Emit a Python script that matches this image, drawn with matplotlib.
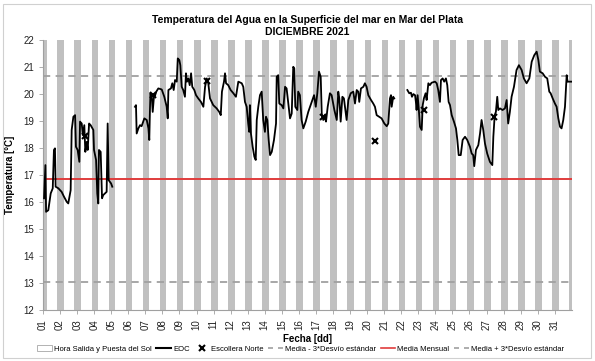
import numpy as np
import matplotlib
matplotlib.use("Agg")
import matplotlib.pyplot as plt
from matplotlib.patches import Patch, Rectangle
from matplotlib.lines import Line2D

plt.rcParams['font.family'] = ['Liberation Sans', 'DejaVu Sans']

# days since 1 Dec 00:00 / water temperature [C]
eoc_days_1 = [0.06, 0.14, 0.18, 0.31, 0.45, 0.57, 0.64, 0.70, 0.74, 0.90, 1.09, 1.23, 1.39, 1.48,
              1.62, 1.68, 1.78, 1.88, 1.93, 2.03, 2.13, 2.17, 2.27, 2.33, 2.42, 2.48, 2.56, 2.62,
              2.70, 2.79, 2.95, 2.99, 3.11, 3.18, 3.24, 3.28, 3.38, 3.46, 3.53, 3.73, 3.79, 3.85,
              3.99, 4.06]
eoc_temp_1 = [16.14, 17.37, 15.64, 15.70, 16.32, 16.51, 17.93, 17.99, 16.57, 16.51, 16.38, 16.20,
              16.01, 15.95, 16.44, 18.67, 19.16, 19.22, 18.05, 17.93, 17.49, 18.98, 18.91, 18.48,
              18.85, 17.86, 18.23, 17.93, 18.91, 18.85, 18.67, 17.93, 17.56, 16.32, 15.95, 17.93,
              17.86, 16.14, 16.26, 16.38, 18.91, 16.81, 16.69, 16.57]

eoc_days_2 = [5.39, 5.45, 5.49, 5.59, 5.69, 5.78, 5.94, 6.08, 6.18, 6.23, 6.29, 6.37, 6.43, 6.51,
              6.56, 6.64, 6.76, 6.96, 7.11, 7.25, 7.31, 7.35, 7.50, 7.58, 7.66, 7.74, 7.84, 7.90,
              7.99, 8.05, 8.13, 8.22, 8.32, 8.38, 8.44, 8.52, 8.60, 8.68, 8.75, 8.87, 8.97, 9.10,
              9.26, 9.40, 9.50, 9.60, 9.69, 9.79, 9.98, 10.18, 10.33, 10.42, 10.49, 10.61, 10.67,
              10.73, 10.86, 11.00, 11.16, 11.31, 11.45, 11.65, 11.74, 11.84, 11.94, 12.03, 12.09,
              12.13, 12.19, 12.29, 12.39, 12.47, 12.53, 12.62, 12.72, 12.82, 12.91, 13.01, 13.07,
              13.15, 13.23, 13.31, 13.41, 13.54, 13.66, 13.70, 13.79, 13.85, 13.99, 14.09, 14.19,
              14.28, 14.38, 14.48, 14.58, 14.67, 14.73, 14.79, 14.91, 14.96, 15.06, 15.16, 15.26,
              15.40, 15.55, 15.75, 15.89, 15.99, 16.08, 16.18, 16.28, 16.34, 16.43, 16.53, 16.59,
              16.69, 16.82, 16.92, 17.08, 17.22, 17.31, 17.37, 17.45, 17.55, 17.64, 17.80, 17.90,
              18.04, 18.19, 18.29, 18.39, 18.48, 18.54, 18.64, 18.78, 18.87, 18.97, 19.07, 19.23,
              19.36, 19.46, 19.56, 19.70, 19.85, 20.01, 20.15, 20.24, 20.34, 20.40, 20.44, 20.53,
              20.59]
eoc_temp_2 = [19.53, 19.59, 18.54, 18.73, 18.85, 18.81, 19.10, 19.04, 18.73, 18.30, 20.03, 19.96,
              19.34, 19.96, 19.93, 20.09, 20.21, 20.17, 19.90, 19.53, 19.10, 20.15, 20.21, 20.40,
              20.15, 20.52, 20.46, 21.32, 21.26, 21.07, 20.27, 20.15, 19.90, 20.77, 20.46, 20.58,
              20.33, 20.77, 20.27, 20.15, 19.96, 19.84, 19.71, 19.53, 20.27, 20.58, 20.40, 19.84,
              19.59, 19.47, 19.34, 19.22, 20.09, 20.46, 20.77, 20.40, 20.33, 20.15, 20.03, 19.90,
              20.46, 20.40, 20.27, 19.71, 19.53, 18.91, 18.60, 19.59, 18.54, 18.05, 17.68, 17.56,
              19.04, 19.53, 19.96, 20.09, 19.04, 18.60, 19.16, 19.04, 18.30, 17.74, 17.86, 18.30,
              18.91, 20.64, 20.70, 19.65, 19.59, 19.47, 20.27, 20.21, 19.65, 19.10, 19.28, 21.01,
              20.95, 19.53, 19.41, 20.09, 19.96, 19.04, 18.73, 18.98, 19.34, 19.71, 19.96, 19.53,
              20.03, 20.83, 20.64, 19.28, 19.04, 19.22, 18.98, 19.53, 20.03, 19.96, 19.41, 19.04,
              20.09, 19.84, 18.98, 19.90, 19.84, 19.04, 19.78, 20.03, 20.09, 19.65, 20.15, 20.09,
              19.71, 20.21, 20.27, 20.40, 20.27, 19.96, 19.78, 19.65, 19.53, 19.22, 19.16, 19.10,
              18.91, 18.81, 18.91, 19.84, 19.96, 19.53, 19.90, 19.84]

eoc_days_3 = [21.36, 21.47, 21.57, 21.63, 21.71, 21.81, 21.86, 21.90, 21.96, 22.02, 22.10, 22.20,
              22.26, 22.33, 22.43, 22.49, 22.59, 22.68, 22.78, 22.98, 23.08, 23.17, 23.27, 23.33,
              23.43, 23.52, 23.62, 23.70, 23.78, 23.86, 23.96, 24.09, 24.21, 24.29, 24.37, 24.49,
              24.60, 24.74, 24.87, 25.03, 25.13, 25.22, 25.28, 25.38, 25.52, 25.62, 25.71, 25.81,
              25.91, 26.04, 26.20, 26.34, 26.40, 26.48, 26.55, 26.63, 26.69, 26.79, 26.94, 27.08,
              27.18, 27.27, 27.37, 27.47, 27.61, 27.76, 27.90, 28.06, 28.19, 28.35, 28.51, 28.65,
              28.80, 28.94, 29.04, 29.13, 29.29, 29.43, 29.56, 29.68, 29.76, 29.88, 30.01, 30.11,
              30.21, 30.31, 30.40, 30.50, 30.60, 30.70, 30.75, 30.85, 30.99]
eoc_temp_3 = [20.15, 20.03, 20.05, 19.90, 20.00, 19.96, 19.71, 19.41, 19.96, 19.53, 18.79, 18.67,
              19.59, 19.84, 20.03, 19.78, 20.40, 20.33, 20.42, 20.46, 20.40, 20.15, 19.71, 20.52,
              20.58, 20.46, 20.58, 20.33, 19.71, 19.59, 19.22, 18.98, 18.73, 18.30, 17.74, 17.74,
              18.30, 18.42, 18.30, 18.05, 17.80, 17.74, 17.33, 17.93, 18.11, 18.54, 19.04, 18.67,
              18.17, 17.80, 17.49, 17.37, 18.42, 19.22, 19.34, 19.90, 19.41, 19.47, 19.41, 19.47,
              19.78, 18.91, 19.34, 19.90, 20.27, 20.89, 21.07, 20.89, 20.58, 20.40, 20.58, 21.20,
              21.44, 21.57, 21.26, 20.83, 20.77, 20.64, 20.58, 20.09, 20.03, 19.84, 19.65, 19.53,
              19.10, 18.79, 18.73, 19.04, 19.53, 20.70, 20.46, 20.46, 20.46]

# Escollera Norte samples
esc_days = [2.46, 6.45, 9.60, 16.40, 19.46, 22.33, 26.45]
esc_temp = [18.44, 19.95, 20.50, 19.16, 18.27, 19.41, 19.16]

media = 16.86
desvio = 1.273

# sunrise / sunset local hours for each day of December
sunrise = [5.67, 5.66, 5.65, 5.65, 5.64, 5.64, 5.63, 5.63, 5.63, 5.63, 5.63, 5.63, 5.63, 5.63,
           5.63, 5.64, 5.64, 5.65, 5.65, 5.66, 5.66, 5.67, 5.68, 5.68, 5.69, 5.70, 5.71, 5.72,
           5.73, 5.74, 5.75]
sunset = [20.22, 20.23, 20.24, 20.25, 20.26, 20.27, 20.28, 20.29, 20.30, 20.31, 20.32, 20.33,
          20.34, 20.34, 20.35, 20.36, 20.37, 20.37, 20.38, 20.38, 20.39, 20.39, 20.40, 20.40,
          20.41, 20.41, 20.41, 20.42, 20.42, 20.42, 20.42]

fig = plt.figure(figsize=(5.95, 3.61), dpi=100)
ax = fig.add_axes([0.0723, 0.141, 0.8887, 0.748])

grey_bar = '#c0c0c0'
# night bars
ax.axvspan(0, sunrise[0] / 24, color=grey_bar, lw=0, zorder=1)
for d in range(31):
    start = d + sunset[d] / 24
    end = d + 1 + (sunrise[d + 1] / 24 if d < 30 else 0)
    ax.axvspan(start, min(end, 31), color=grey_bar, lw=0, zorder=1)

dash_col = '#a0a0a0'
ax.axhline(media, color='#e03c3c', lw=1.4, zorder=2)
ax.axhline(media + 3 * desvio, color=dash_col, lw=1.3, ls=(0, (4, 3)), zorder=2)
ax.axhline(media - 3 * desvio, color=dash_col, lw=1.3, ls=(0, (4, 3)), zorder=2)

x = eoc_days_1 + [np.nan] + eoc_days_2 + [np.nan] + eoc_days_3
y = eoc_temp_1 + [np.nan] + eoc_temp_2 + [np.nan] + eoc_temp_3
ax.plot(x, y, color='black', lw=1.3, zorder=3)
ax.plot(esc_days, esc_temp, ls='none', marker='x', color='black', ms=5, mew=1.5, zorder=4)

ax.set_xlim(0, 31)
ax.set_ylim(12, 22)
ax.set_yticks(range(12, 23))
ax.set_xticks(range(31))
ax.set_xticklabels(['%02d' % (i + 1) for i in range(31)], rotation=90)
ax.tick_params(labelsize=7, colors='#222222', length=3, width=0.6)
ax.tick_params(axis='both', color='#a0a0a0')
for s in ['top', 'right']:
    ax.spines[s].set_visible(False)
for s in ['left', 'bottom']:
    ax.spines[s].set_color('#a0a0a0')
    ax.spines[s].set_linewidth(0.8)

ax.set_title('Temperatura del Agua en la Superficie del mar en Mar del Plata\nDICIEMBRE 2021',
             fontsize=7.5, fontweight='bold', pad=4, linespacing=1.15)
ax.set_ylabel('Temperatura [°C]', fontsize=7, fontweight='bold', labelpad=6)
ax.set_xlabel('Fecha [dd]', fontsize=7, fontweight='bold', labelpad=3)

handles = [
    Patch(facecolor='white', edgecolor='#a6a6a6', lw=0.6),
    Line2D([], [], color='black', lw=1.5),
    Line2D([], [], ls='none', marker='x', color='black', ms=4, mew=1.5),
    Line2D([], [], color=dash_col, lw=1.2, ls=(0, (3, 3))),
    Line2D([], [], color='#e03c3c', lw=1.2),
    Line2D([], [], color=dash_col, lw=1.2, ls=(0, (3, 3))),
]
labels = ['Hora Salida y Puesta del Sol', 'EOC', 'Escollera Norte',
          'Media - 3*Desvío estándar', 'Media Mensual', 'Media + 3*Desvío estándar']
fig.legend(handles, labels, loc='center', bbox_to_anchor=(0.505, 0.033), ncol=6,
           frameon=False, fontsize=5.5, handlelength=1.9, handletextpad=0.3,
           columnspacing=0.6, borderaxespad=0)

fig.add_artist(Rectangle((3 / 595, 3 / 361), 588 / 595, 354 / 361, transform=fig.transFigure,
                         fill=False, edgecolor='#d0d0d0', lw=0.8))

fig.savefig('out.png', dpi=100)
